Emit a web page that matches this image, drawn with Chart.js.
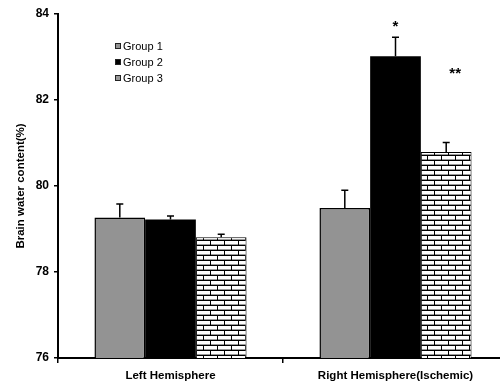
<!DOCTYPE html>
<html>
<head>
<meta charset="utf-8">
<script src="https://cdn.jsdelivr.net/npm/chart.js@4/dist/chart.umd.min.js"></script>
<style>
  html, body { margin: 0; padding: 0; background: #fff; }
  /* the source figure is cut off on the right, so the plot runs past the frame */
  #frame { width: 500px; height: 385px; overflow: hidden; }
  canvas { display: block; }
</style>
</head>
<body>
<div id="frame"><canvas id="chart" width="508" height="385"></canvas></div>
<script>
// data
const categories = ['Left Hemisphere', 'Right Hemisphere(Ischemic)'];
const groupNames = ['Group 1', 'Group 2', 'Group 3'];
const group1 = [79.27, 79.49];
const group2 = [79.22, 83.02];
const group3 = [78.81, 80.79];
const group1Err = [0.31, 0.41];
const group2Err = [0.08, 0.44];
const group3Err = [0.07, 0.22];
const yTicks = [76, 78, 80, 82, 84];
// significance marks: dataset index, category index, text, level on the y axis
const sigMarks = [
    { ds: 1, cat: 1, text: '*', level: 83.8 },
    { ds: 2, cat: 1, text: '**', level: 82.7 }
];

const FONT = '"Liberation Sans", Arial, sans-serif';

// brick hatch like the old excel fill
function brickPattern() {
    const c = document.createElement('canvas');
    c.width = 14; c.height = 10;
    const g = c.getContext('2d');
    g.fillStyle = '#fff';
    g.fillRect(0, 0, 14, 10);
    g.fillStyle = '#000';
    g.fillRect(0, 0, 14, 1);
    g.fillRect(0, 5, 14, 1);
    g.fillRect(0, 1, 1, 4);
    g.fillRect(7, 6, 1, 4);
    g.fillStyle = '#9a9a9a';
    g.fillRect(1, 4, 13, 1);
    g.fillRect(0, 9, 7, 1);
    g.fillRect(8, 9, 6, 1);
    return g.createPattern(c, 'repeat');
}

const errors = [group1Err, group2Err, group3Err];

// error bars (upper only) + asterisks
const errorBarPlugin = {
    id: 'errorBars',
    afterDatasetsDraw(chart) {
        const ctx = chart.ctx;
        const y = chart.scales.y;
        ctx.save();
        ctx.strokeStyle = '#000';
        ctx.lineWidth = 1.5;
        chart.data.datasets.forEach((ds, di) => {
            chart.getDatasetMeta(di).data.forEach((bar, i) => {
                const top = y.getPixelForValue(ds.data[i] + errors[di][i]);
                ctx.beginPath();
                ctx.moveTo(bar.x, bar.y);
                ctx.lineTo(bar.x, top);
                ctx.moveTo(bar.x - 3.5, top);
                ctx.lineTo(bar.x + 3.5, top);
                ctx.stroke();
            });
        });
        ctx.fillStyle = '#000';
        ctx.font = 'bold 15px ' + FONT;
        ctx.textAlign = 'center';
        ctx.textBaseline = 'middle';
        sigMarks.forEach(m => {
            const bar = chart.getDatasetMeta(m.ds).data[m.cat];
            const dx = m.text.length > 1 ? 9 : 0;
            ctx.fillText(m.text, bar.x + dx, y.getPixelForValue(m.level) + 4);
        });
        ctx.restore();
    }
};

// small legend sitting inside the plot
const innerLegend = {
    id: 'innerLegend',
    afterDraw(chart) {
        const ctx = chart.ctx;
        ctx.save();
        ctx.font = '11px ' + FONT;
        ctx.textBaseline = 'middle';
        chart.data.datasets.forEach((ds, i) => {
            const ly = 46 + i * 16;
            ctx.fillStyle = typeof ds.backgroundColor === 'string' ? ds.backgroundColor : '#999';
            ctx.fillRect(115, ly - 3, 6, 6);
            ctx.strokeStyle = '#222';
            ctx.lineWidth = 1;
            ctx.strokeRect(115.5, ly - 2.5, 5, 5);
            ctx.fillStyle = '#000';
            ctx.fillText(ds.label, 123, ly + 0.5);
        });
        ctx.restore();
    }
};

new Chart(document.getElementById('chart'), {
    type: 'bar',
    data: {
        labels: categories,
        datasets: [
            { label: groupNames[0], data: group1, backgroundColor: '#939393', borderColor: '#000', borderWidth: 1.5 },
            { label: groupNames[1], data: group2, backgroundColor: '#000', borderWidth: 0 },
            { label: groupNames[2], data: group3, backgroundColor: brickPattern(), borderColor: '#000', borderWidth: 1 }
        ]
    },
    options: {
        responsive: false,
        animation: false,
        categoryPercentage: 0.676,
        barPercentage: 1,
        layout: { padding: { top: 14, left: 0, right: 0, bottom: 0 } },
        plugins: { legend: { display: false }, tooltip: { enabled: false } },
        scales: {
            x: {
                afterFit: s => { s.height = 27; },
                ticks: {
                    font: { family: FONT, size: 11.5, weight: 'bold' },
                    color: '#000',
                    padding: 6,
                    maxRotation: 0
                },
                grid: { offset: true, drawOnChartArea: false, tickLength: 5, color: '#000', lineWidth: 1.5 },
                border: { color: '#000', width: 2 }
            },
            y: {
                min: 76,
                max: 84,
                afterBuildTicks: s => { s.ticks = yTicks.map(v => ({ value: v })); },
                afterFit: s => { s.width = 58; },
                ticks: {
                    font: { family: FONT, size: 12, weight: 'bold' },
                    color: '#000',
                    padding: 5
                },
                grid: { drawOnChartArea: false, tickLength: 4, color: '#000', lineWidth: 1.5 },
                border: { color: '#000', width: 2 },
                title: {
                    display: true,
                    text: 'Brain water content(%)',
                    font: { family: FONT, size: 11.5, weight: 'bold' },
                    color: '#000',
                    padding: { top: 14, bottom: 0 }
                }
            }
        }
    },
    plugins: [errorBarPlugin, innerLegend]
});
</script>
</body>
</html>
